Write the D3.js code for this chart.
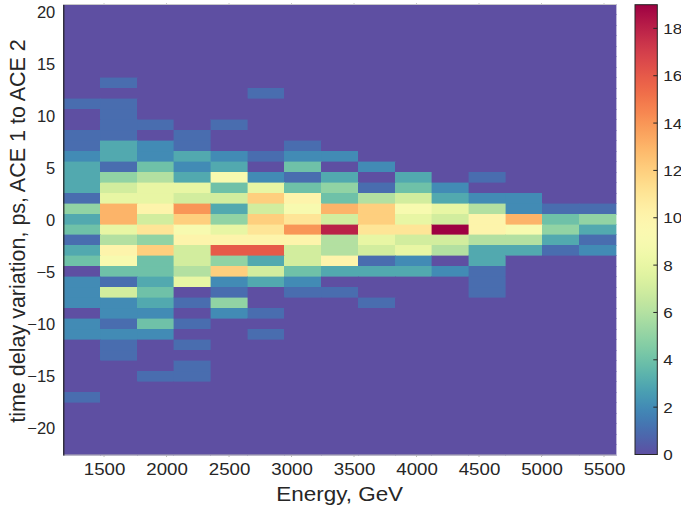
<!DOCTYPE html>
<html><head><meta charset="utf-8">
<script src="https://cdn.jsdelivr.net/npm/d3@7"></script>
<style>body{margin:0;background:#fff} svg{display:block}</style>
</head><body><svg id="c" width="681" height="506"></svg>
<script>
// ---- data ----
const energyEdges = [1174, 1469, 1764, 2059, 2354, 2648, 2943, 3238, 3533, 3828, 4122, 4417, 4712, 5007, 5302, 5596];
const delayLow = -22.57;
const delayHigh = 20.75;
const delayBinCount = 43;
const xTickValues = [1500, 2000, 2500, 3000, 3500, 4000, 4500, 5000, 5500];
const yTickValues = [-20, -15, -10, -5, 0, 5, 10, 15, 20];
const cbTickValues = [0, 2, 4, 6, 8, 10, 12, 14, 16, 18];
const countMax = 19;
// counts per delay bin, listed from the highest delay bin (top) to the lowest (bottom);
// each row has one count per energy bin
const countRows = [
  [0,0,0,0,0,0,0,0,0,0,0,0,0,0,0],
  [0,0,0,0,0,0,0,0,0,0,0,0,0,0,0],
  [0,0,0,0,0,0,0,0,0,0,0,0,0,0,0],
  [0,0,0,0,0,0,0,0,0,0,0,0,0,0,0],
  [0,0,0,0,0,0,0,0,0,0,0,0,0,0,0],
  [0,0,0,0,0,0,0,0,0,0,0,0,0,0,0],
  [0,0,0,0,0,0,0,0,0,0,0,0,0,0,0],
  [0,1,0,0,0,0,0,0,0,0,0,0,0,0,0],
  [0,0,0,0,0,1,0,0,0,0,0,0,0,0,0],
  [1,1,0,0,0,0,0,0,0,0,0,0,0,0,0],
  [0,1,0,0,0,0,0,0,0,0,0,0,0,0,0],
  [0,1,1,0,1,0,0,0,0,0,0,0,0,0,0],
  [1,1,0,1,0,0,0,0,0,0,0,0,0,0,0],
  [1,3,2,1,0,0,1,0,0,0,0,0,0,0,0],
  [2,3,2,3,2,1,2,2,0,0,0,0,0,0,0],
  [3,1,4,2,3,0,4,0,2,0,0,0,0,0,0],
  [3,5,6,3,9,2,1,3,0,3,0,1,0,0,0],
  [3,7,8,8,4,8,4,5,1,4,2,0,0,0,0],
  [1,8,8,7,7,12,10,4,6,7,3,2,2,0,0],
  [5,13,10,14,3,7,9,13,12,9,8,6,2,1,1],
  [3,13,7,12,5,12,11,7,12,8,7,10,13,4,5],
  [4,8,11,9,8,11,14,18,11,11,19,10,9,5,3],
  [1,6,5,10,10,10,10,6,8,7,7,6,6,3,1],
  [3,10,12,7,16,16,7,6,7,8,6,3,3,1,2],
  [4,9,4,7,5,3,7,10,1,2,0,3,0,0,0],
  [0,4,4,6,12,7,4,3,3,3,2,1,0,0,0],
  [2,1,3,8,2,3,2,0,0,0,0,1,0,0,0],
  [2,7,4,0,1,0,1,1,0,0,0,1,0,0,0],
  [2,2,3,1,5,0,0,0,1,0,0,0,0,0,0],
  [0,2,2,0,2,1,0,0,0,0,0,0,0,0,0],
  [2,1,4,1,0,0,0,0,0,0,0,0,0,0,0],
  [2,2,2,0,0,1,0,0,0,0,0,0,0,0,0],
  [0,1,0,1,0,0,0,0,0,0,0,0,0,0,0],
  [0,1,0,0,0,0,0,0,0,0,0,0,0,0,0],
  [0,0,0,1,0,0,0,0,0,0,0,0,0,0,0],
  [0,0,1,1,0,0,0,0,0,0,0,0,0,0,0],
  [0,0,0,0,0,0,0,0,0,0,0,0,0,0,0],
  [1,0,0,0,0,0,0,0,0,0,0,0,0,0,0],
  [0,0,0,0,0,0,0,0,0,0,0,0,0,0,0],
  [0,0,0,0,0,0,0,0,0,0,0,0,0,0,0],
  [0,0,0,0,0,0,0,0,0,0,0,0,0,0,0],
  [0,0,0,0,0,0,0,0,0,0,0,0,0,0,0],
  [0,0,0,0,0,0,0,0,0,0,0,0,0,0,0]
];

// ---- layout ----
const svg = d3.select('#c');
const P = {left: 63.3, right: 616, top: 4.5, bottom: 455};
const CB = {left: 635, right: 657.3, top: 4.7, bottom: 454.5};
const textColor = '#262626';
const font = '"Liberation Sans", Arial, Helvetica, sans-serif';
const stretch = 1.1;

const x = d3.scaleLinear().domain([energyEdges[0], energyEdges[energyEdges.length - 1]]).range([P.left, P.right]);
const y = d3.scaleLinear().domain([delayLow, delayHigh]).range([P.bottom, P.top]);
const binH = (delayHigh - delayLow) / delayBinCount;
const color = v => d3.interpolateSpectral(1 - v / countMax);

// cells
const cells = [];
countRows.forEach((row, r) => {
  const hi = delayHigh - r * binH, lo = hi - binH;
  row.forEach((v, c) => cells.push({v, x0: energyEdges[c], x1: energyEdges[c + 1], lo, hi}));
});
svg.append('g').selectAll('rect').data(cells).join('rect')
  .attr('x', d => x(d.x0)).attr('width', d => x(d.x1) - x(d.x0))
  .attr('y', d => y(d.hi)).attr('height', d => y(d.lo) - y(d.hi))
  .attr('fill', d => color(d.v)).attr('stroke', d => color(d.v)).attr('stroke-width', 0.4)
  .attr('shape-rendering', 'crispEdges');

// frame lines
svg.append('line').attr('x1', P.left).attr('x2', P.right).attr('y1', P.top).attr('y2', P.top)
  .attr('stroke', '#c8c8c8').attr('stroke-width', 1);
svg.append('line').attr('x1', P.left).attr('x2', P.right).attr('y1', P.bottom).attr('y2', P.bottom)
  .attr('stroke', '#b8b8b8').attr('stroke-width', 1);
svg.append('g').selectAll('line').data(xTickValues).join('line')
  .attr('x1', d => x(d)).attr('x2', d => x(d)).attr('y1', P.top - 1.5).attr('y2', P.top)
  .attr('stroke', '#c8c8c8');
svg.append('g').selectAll('line').data(xTickValues).join('line')
  .attr('x1', d => x(d)).attr('x2', d => x(d)).attr('y1', P.bottom).attr('y2', P.bottom + 2)
  .attr('stroke', '#b8b8b8');

// x axis labels
const gx = svg.append('g').attr('transform', `translate(0,${P.bottom})`)
  .call(d3.axisBottom(x).tickValues(xTickValues).tickSize(0).tickPadding(8).tickFormat(d3.format('d')));
gx.select('.domain').remove();
gx.selectAll('text').attr('fill', textColor).style('font-family', font).style('font-size', '17px')
  .attr('transform', `scale(${stretch},1)`);

// y axis
const gy = svg.append('g').attr('transform', `translate(${P.left},0)`)
  .call(d3.axisLeft(y).tickValues(yTickValues).tickSize(0).tickPadding(8).tickFormat(d3.format('d')));
gy.select('.domain').attr('stroke', textColor).attr('stroke-width', 1.2);
gy.selectAll('text').attr('fill', textColor).style('font-family', font).style('font-size', '16.5px');

// axis titles
svg.append('text').attr('transform', `translate(${(P.left + P.right) / 2},501) scale(1.07,1)`)
  .attr('text-anchor', 'middle').attr('fill', textColor)
  .style('font-family', font).style('font-size', '21px').text('Energy, GeV');
svg.append('text').attr('transform', `translate(25,231) rotate(-90)`)
  .attr('text-anchor', 'middle').attr('fill', textColor)
  .style('font-family', font).style('font-size', '21.5px').text('time delay variation, ps, ACE 1 to ACE 2');

// colorbar
const cbScale = d3.scaleLinear().domain([0, countMax]).range([CB.bottom, CB.top]);
const grad = svg.append('defs').append('linearGradient').attr('id', 'cbg')
  .attr('x1', 0).attr('x2', 0).attr('y1', 1).attr('y2', 0);
d3.range(0, 1.0001, 0.02).forEach(t => grad.append('stop').attr('offset', t).attr('stop-color', color(t * countMax)));
svg.append('rect').attr('x', CB.left).attr('y', CB.top).attr('width', CB.right - CB.left).attr('height', CB.bottom - CB.top)
  .attr('fill', 'url(#cbg)').attr('stroke', textColor).attr('stroke-width', 1);
svg.append('g').selectAll('line').data(cbTickValues).join('line')
  .attr('x1', CB.right - 4).attr('x2', CB.right).attr('y1', d => cbScale(d)).attr('y2', d => cbScale(d))
  .attr('stroke', textColor);
const gc = svg.append('g').attr('transform', `translate(${CB.right},0)`)
  .call(d3.axisRight(cbScale).tickValues(cbTickValues).tickSize(0).tickPadding(6).tickFormat(d3.format('d')));
gc.select('.domain').remove();
gc.selectAll('text').attr('fill', textColor).style('font-family', font).style('font-size', '15.5px')
  .attr('x', 6 / stretch).attr('transform', `scale(${stretch},1)`);
</script></body></html>
